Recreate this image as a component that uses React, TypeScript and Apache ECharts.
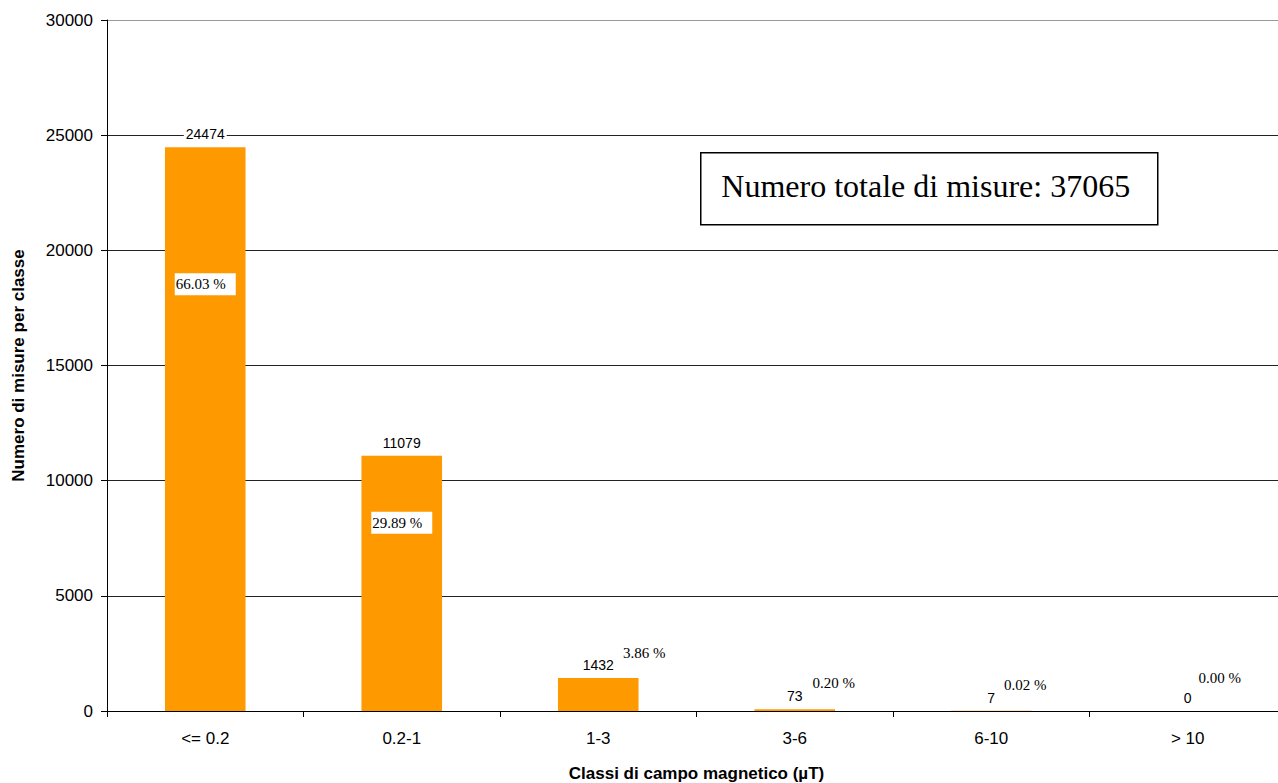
import React, { useEffect, useRef } from "react";
import * as echarts from "echarts";

// Classes of magnetic field (µT) and number of measurements in each class
const categories = ["<= 0.2", "0.2-1", "1-3", "3-6", "6-10", "> 10"];
const counts = [24474, 11079, 1432, 73, 7, 0];
const yTicks = { min: 0, max: 30000, interval: 5000 };

// Pixel offsets of each percentage label from the top of its bar
const pctOffsets: [number, number][] = [
  [0, 137],
  [0, 67],
  [46, -25],
  [39, -26],
  [34, -26],
  [32, -33],
];

const total = counts.reduce((a, b) => a + b, 0);
const percents = counts.map((c) => ((c / total) * 100).toFixed(2) + " %");

export default function App() {
  const ref = useRef<HTMLDivElement>(null);

  useEffect(() => {
    document.body.style.margin = "0";
    if (!ref.current) return;
    const chart = echarts.init(ref.current, null, { renderer: "svg" });

    const sans = "Arial, 'Liberation Sans', sans-serif";
    const serif = "'Liberation Serif', 'Times New Roman', serif";

    chart.setOption({
      animation: false,
      backgroundColor: "#ffffff",
      grid: {
        left: 107,
        top: 20,
        width: 1179,
        height: 691,
        containLabel: false,
        outerBoundsMode: "none",
      },
      xAxis: {
        type: "category",
        data: categories,
        boundaryGap: true,
        name: "Classi di campo magnetico (µT)",
        nameLocation: "middle",
        nameGap: 54,
        nameTextStyle: { fontFamily: sans, fontWeight: "bold", fontSize: 17, color: "#000" },
        axisLine: { lineStyle: { color: "#000", width: 1 } },
        axisTick: { show: true, length: 6, lineStyle: { color: "#000" } },
        axisLabel: { fontFamily: sans, fontSize: 17, color: "#000", margin: 19 },
        splitLine: { show: false },
      },
      yAxis: {
        type: "value",
        min: yTicks.min,
        max: yTicks.max,
        interval: yTicks.interval,
        name: "Numero di misure per classe",
        nameLocation: "middle",
        nameGap: 80,
        nameRotate: 90,
        nameTextStyle: { fontFamily: sans, fontWeight: "bold", fontSize: 17, color: "#000" },
        axisLine: { show: true, lineStyle: { color: "#000", width: 1 } },
        axisTick: { show: true, length: 6, lineStyle: { color: "#000" } },
        axisLabel: {
          fontFamily: sans,
          fontSize: 17,
          color: "#000",
          margin: 14,
          formatter: (v: number) => String(v),
        },
        splitLine: {
          show: true,
          lineStyle: { color: ["#000", "#222", "#222", "#222", "#222", "#222", "#999"], width: 1 },
        },
      },
      series: [
        {
          type: "bar",
          data: counts,
          barWidth: "41%",
          itemStyle: { color: "#FF9900" },
          label: {
            show: true,
            position: "top",
            distance: 6,
            fontFamily: sans,
            fontSize: 14,
            color: "#000",
            backgroundColor: "#fff",
            padding: [0, 2, 0, 2],
          },
          z: 2,
        },
        {
          type: "scatter",
          data: counts.map((c, i) => ({
            value: c,
            label: {
              show: true,
              position: "inside",
              offset: pctOffsets[i],
              formatter: percents[i],
              ...(i < 2 ? { backgroundColor: "#fff", padding: [4, 10, 3, 1] } : {}),
            },
          })),
          symbolSize: 0,
          silent: true,
          itemStyle: { opacity: 1 },
          label: {
            show: true,
            fontFamily: serif,
            fontSize: 15,
            color: "#000",
            opacity: 1,
          },
          z: 5,
        },
      ],
      graphic: [
        {
          type: "group",
          left: 700,
          top: 152,
          children: [
            {
              type: "rect",
              shape: { x: 0, y: 0, width: 457, height: 72 },
              style: { fill: "#fff", stroke: "#000", lineWidth: 1.5 },
            },
            {
              type: "text",
              x: 225,
              y: 33,
              style: {
                text: "Numero totale di misure: " + total,
                font: "32px 'Liberation Serif', 'Times New Roman', serif",
                fill: "#000",
                align: "center",
                verticalAlign: "middle",
              },
            },
          ],
        },
      ],
    });

    return () => chart.dispose();
  }, []);

  return <div ref={ref} style={{ width: 1278, height: 783 }} />;
}
